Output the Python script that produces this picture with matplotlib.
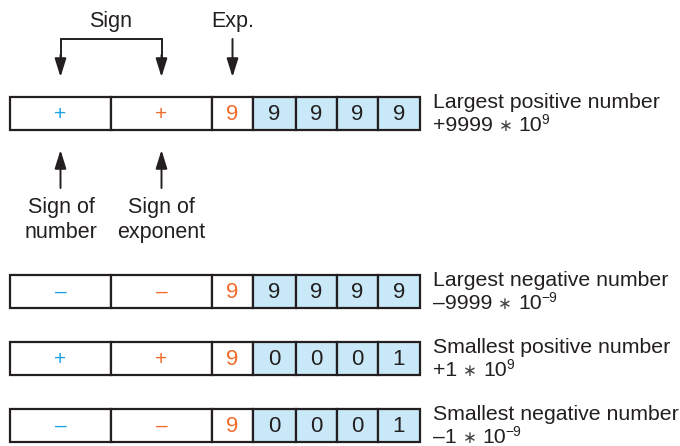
import matplotlib
matplotlib.use("Agg")
import matplotlib.pyplot as plt
from matplotlib.patches import Rectangle

plt.rcParams['font.family'] = ['Liberation Sans', 'DejaVu Sans']

# ---- data ----
number_signs = ['+', '\u2013', '+', '\u2013']
exponent_signs = ['+', '\u2013', '+', '\u2013']
exponent_digits = ['9', '9', '9', '9']
mantissas = [['9', '9', '9', '9'],
             ['9', '9', '9', '9'],
             ['0', '0', '0', '1'],
             ['0', '0', '0', '1']]
descriptions = ['Largest positive number', 'Largest negative number',
                'Smallest positive number', 'Smallest negative number']
value_mantissas = ['+9999', '\u20139999', '+1', '\u20131']
value_exponents = ['9', '\u22129', '9', '\u22129']

# ---- layout (pixels) ----
W, H = 680, 446
row_tops = [97, 275, 342, 409]
row_h = 33
cell_edges = [10, 111, 212, 253, 296, 337, 378, 420]
BLUE = '#1aa3e3'
ORANGE = '#f26b2b'
FILL = '#c9e9f8'
EDGE = '#231f20'
TXT = '#231f20'

fig = plt.figure(figsize=(W / 100, H / 100), dpi=100)
ax = fig.add_axes([0, 0, 1, 1])
ax.set_xlim(0, W)
ax.set_ylim(H, 0)
ax.axis('off')
fig.canvas.draw()
renderer = fig.canvas.get_renderer()
inv = ax.transData.inverted()


def right_edge(t):
    bb = t.get_window_extent(renderer)
    return inv.transform((bb.x1, bb.y0))[0]


for r, top in enumerate(row_tops):
    contents = [number_signs[r], exponent_signs[r], exponent_digits[r]] + mantissas[r]
    colors = [BLUE, ORANGE, ORANGE] + [TXT] * 4
    for c in range(7):
        x0, x1 = cell_edges[c], cell_edges[c + 1]
        fc = FILL if c >= 3 else 'white'
        ax.add_patch(Rectangle((x0, top), x1 - x0, row_h, facecolor=fc,
                               edgecolor=EDGE, lw=1.6, zorder=2))
        fs = 15 if c < 2 else 16
        ax.text((x0 + x1) / 2, top + row_h / 2 + 1, contents[c], color=colors[c],
                ha='center', va='center', fontsize=fs, zorder=3)
    ax.text(433, top + 11, descriptions[r], ha='left', va='baseline',
            fontsize=15.3, color=TXT)
    base = top + 34
    t1 = ax.text(433, base, value_mantissas[r], ha='left', va='baseline',
                 fontsize=15.3, color=TXT)
    x = right_edge(t1) + 6
    t2 = ax.text(x, base, '\u2217', ha='left', va='baseline', fontsize=12,
                 color='#444444', family='DejaVu Sans')
    x = right_edge(t2) + 6
    t3 = ax.text(x, base, '10', ha='left', va='baseline', fontsize=15.3, color=TXT)
    x = right_edge(t3) - 0.5
    ax.text(x, base - 7, value_exponents[r], ha='left', va='baseline',
            fontsize=10, color=TXT)

# ---- annotations ----
arrow_kw = dict(arrowstyle='-|>,head_length=0.8,head_width=0.25', color=EDGE, lw=1.4,
                mutation_scale=14, shrinkA=0, shrinkB=0)
xs_sign = [(cell_edges[0] + cell_edges[1]) / 2, (cell_edges[1] + cell_edges[2]) / 2]
x_exp = (cell_edges[2] + cell_edges[3]) / 2
y_br = 39
ax.plot([xs_sign[0], xs_sign[0], xs_sign[1], xs_sign[1]], [60, y_br, y_br, 60],
        color=EDGE, lw=1.4, solid_joinstyle='miter')
for xx in xs_sign:
    ax.annotate('', xy=(xx, 77), xytext=(xx, 55), arrowprops=arrow_kw)
    ax.annotate('', xy=(xx, 150), xytext=(xx, 188), arrowprops=arrow_kw)
ax.annotate('', xy=(x_exp, 77), xytext=(x_exp, y_br), arrowprops=arrow_kw)

fs_a = 15.5
ax.text((xs_sign[0] + xs_sign[1]) / 2, 27, 'Sign', ha='center', va='baseline',
        fontsize=fs_a, color=TXT)
ax.text(x_exp, 27, 'Exp.', ha='center', va='baseline', fontsize=fs_a, color=TXT)
ax.text(xs_sign[0] + 1, 213, 'Sign of', ha='center', va='baseline', fontsize=fs_a, color=TXT)
ax.text(xs_sign[0] + 1, 238, 'number', ha='center', va='baseline', fontsize=fs_a, color=TXT)
ax.text(xs_sign[1], 213, 'Sign of', ha='center', va='baseline', fontsize=fs_a, color=TXT)
ax.text(xs_sign[1], 238, 'exponent', ha='center', va='baseline', fontsize=fs_a, color=TXT)

fig.savefig('out.png', dpi=100)
